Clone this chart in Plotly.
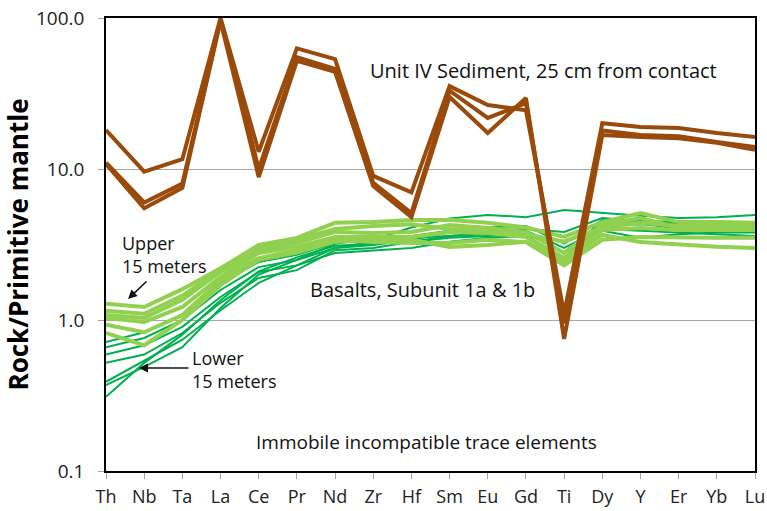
import plotly.graph_objects as go

elements = ["Th", "Nb", "Ta", "La", "Ce", "Pr", "Nd", "Zr", "Hf",
            "Sm", "Eu", "Gd", "Ti", "Dy", "Y", "Er", "Yb", "Lu"]

# Unit IV sediment, 25 cm from contact
sediment_a = [18.1, 9.6, 11.6, 100, 13.0, 63, 53.5, 9.0, 7.0, 35.4, 26.5, 24.5, 1.1, 20.1, 19.0, 18.7, 17.3, 16.3]
sediment_b = [11.0, 6.0, 8.0, 98, 10.0, 55, 46, 8.1, 5.1, 33, 21.8, 27.3, 0.95, 18.0, 16.8, 16.5, 15.1, 14.0]
sediment_c = [10.8, 5.5, 7.5, 95, 8.85, 52, 44, 7.7, 4.8, 30, 17.3, 29.5, 0.75, 16.8, 16.3, 16.0, 14.9, 13.4]

# Basalts, upper 15 m (Subunit 1a)
upper_1 = [1.28, 1.22, 1.60, 2.20, 3.14, 3.50, 4.40, 4.45, 4.60, 4.60, 4.40, 4.10, 3.55, 4.45, 5.10, 4.45, 4.45, 4.40]
upper_2 = [1.08, 1.03, 1.36, 2.08, 2.90, 3.23, 3.83, 3.77, 3.83, 4.26, 4.07, 3.83, 2.78, 4.26, 4.73, 4.10, 4.10, 4.10]
upper_3 = [1.03, 0.97, 1.22, 1.93, 2.78, 3.05, 3.55, 3.55, 3.55, 3.83, 3.77, 3.55, 2.57, 3.94, 4.07, 3.94, 3.94, 3.94]
upper_4 = [0.93, 0.83, 1.08, 1.84, 2.57, 2.90, 3.40, 3.28, 3.23, 3.23, 3.40, 3.28, 2.30, 3.40, 3.55, 3.50, 3.50, 3.50]
upper_5 = [0.82, 0.68, 1.00, 1.70, 2.50, 2.80, 3.30, 3.40, 3.40, 3.05, 3.14, 3.30, 2.45, 3.66, 3.28, 3.14, 3.05, 3.00]
upper_6 = [1.15, 1.10, 1.45, 2.15, 3.00, 3.40, 4.00, 4.20, 4.30, 4.00, 3.90, 3.70, 3.30, 4.10, 4.40, 4.20, 4.20, 4.20]

# Basalts, lower 15 m (Subunit 1b)
lower_1 = [0.715, 0.83, 1.08, 1.76, 2.42, 2.70, 3.23, 3.40, 4.10, 4.70, 4.96, 4.80, 5.35, 5.10, 4.90, 4.73, 4.80, 4.96]
lower_2 = [0.66, 0.76, 1.00, 1.58, 2.24, 2.50, 3.00, 3.14, 3.40, 3.80, 3.90, 4.00, 3.83, 4.73, 4.50, 4.30, 4.20, 4.30]
lower_3 = [0.59, 0.68, 0.90, 1.42, 2.08, 2.30, 2.78, 2.90, 3.00, 3.30, 3.50, 3.60, 2.60, 4.26, 4.30, 4.10, 4.00, 4.00]
lower_4 = [0.52, 0.59, 0.82, 1.30, 1.90, 2.14, 2.90, 3.00, 3.30, 3.50, 3.60, 3.70, 2.42, 3.90, 3.50, 3.70, 3.80, 3.80]
lower_5 = [0.39, 0.54, 0.74, 1.16, 1.76, 2.30, 3.00, 3.30, 3.50, 3.60, 3.70, 3.80, 2.80, 4.50, 4.60, 4.40, 4.30, 4.20]
lower_6 = [0.37, 0.49, 0.66, 1.20, 2.00, 2.50, 3.20, 3.50, 3.60, 3.90, 4.10, 4.20, 3.20, 4.60, 4.40, 4.00, 3.90, 3.90]
lower_7 = [0.31, 0.52, 0.80, 1.35, 2.10, 2.60, 3.10, 3.20, 3.30, 3.60, 3.80, 3.90, 3.00, 4.00, 3.90, 3.80, 3.70, 3.60]

sediments = [sediment_a, sediment_b, sediment_c]
upper = [upper_1, upper_2, upper_3, upper_4, upper_5, upper_6]
lower = [lower_1, lower_2, lower_3, lower_4, lower_5, lower_6, lower_7]

y_ticks = [0.1, 1, 10, 100]
y_tick_text = ["0.1", "1.0", "10.0", "100.0"]

BROWN = "#9A4A0A"
DARK_GREEN = "#00B050"
LIGHT_GREEN = "#92D050"
FONT = "Open Sans"

fig = go.Figure()
for s in lower:
    fig.add_trace(go.Scatter(x=elements, y=s, mode="lines",
                             line=dict(color=DARK_GREEN, width=2)))
for s in upper:
    fig.add_trace(go.Scatter(x=elements, y=s, mode="lines",
                             line=dict(color=LIGHT_GREEN, width=4)))
for s in sediments:
    fig.add_trace(go.Scatter(x=elements, y=s, mode="lines",
                             line=dict(color=BROWN, width=4)))

# plot area in pixels: x 106..755, y 18..471
L, R, T, B = 106, 755, 18, 471
def px(x):
    return (x - L) / (R - L)
def py(y):
    return (B - y) / (B - T)

def tfont(size):
    return dict(family=FONT, size=size, color="#111111")

annotations = [
    dict(x=px(368), y=py(70), text="Unit IV Sediment, 25 cm from contact",
         xanchor="left", yanchor="middle", font=tfont(20)),
    dict(x=px(308), y=py(289), text="Basalts, Subunit 1a & 1b",
         xanchor="left", yanchor="middle", font=tfont(20)),
    dict(x=px(120), y=py(254), text="Upper<br>15 meters",
         xanchor="left", yanchor="middle", align="left", font=tfont(18)),
    dict(x=px(190), y=py(369), text="Lower<br>15 meters",
         xanchor="left", yanchor="middle", align="left", font=tfont(18)),
    dict(x=px(426), y=py(442), text="Immobile incompatible trace elements",
         xanchor="center", yanchor="middle", font=tfont(19)),
]
for a in annotations:
    a.update(xref="paper", yref="paper", showarrow=False)

arrows = [
    dict(x=px(128), y=py(299), ax=20, ay=-19),
    dict(x=px(139), y=py(368), ax=51, ay=0),
]
for a in arrows:
    a.update(xref="paper", yref="paper", text="", showarrow=True,
             arrowhead=2, arrowsize=1.2, arrowwidth=1.5, arrowcolor="#111111",
             axref="pixel", ayref="pixel")

fig.update_layout(
    width=767, height=511,
    margin=dict(l=L, r=767 - R, t=T, b=511 - B),
    paper_bgcolor="white", plot_bgcolor="white",
    showlegend=False,
    font=dict(family=FONT, color="#222222"),
    annotations=annotations + arrows,
)
fig.update_xaxes(
    type="category", range=[0, len(elements) - 1], automargin=False,
    showgrid=False, showline=True, linecolor="black", linewidth=1.5, mirror=True,
    ticks="outside", ticklen=6, tickcolor="#A6A6A6", tickwidth=1,
    ticklabelstandoff=3,
    tickfont=dict(family=FONT, size=18, color="#222222"),
)
fig.update_yaxes(
    type="log", range=[-1, 2], automargin=False,
    tickvals=y_ticks, ticktext=y_tick_text,
    showgrid=True, gridcolor="#A6A6A6", gridwidth=1,
    showline=True, linecolor="black", linewidth=1.5, mirror=True,
    ticks="outside", ticklen=6, tickcolor="#A6A6A6", tickwidth=1,
    ticklabelstandoff=10,
    tickfont=dict(family=FONT, size=19, color="#222222"),
    title=dict(text="<b>Rock/Primitive mantle</b>",
               font=dict(family=FONT, size=26, color="black"), standoff=10),
)

fig.write_html("out.html")
